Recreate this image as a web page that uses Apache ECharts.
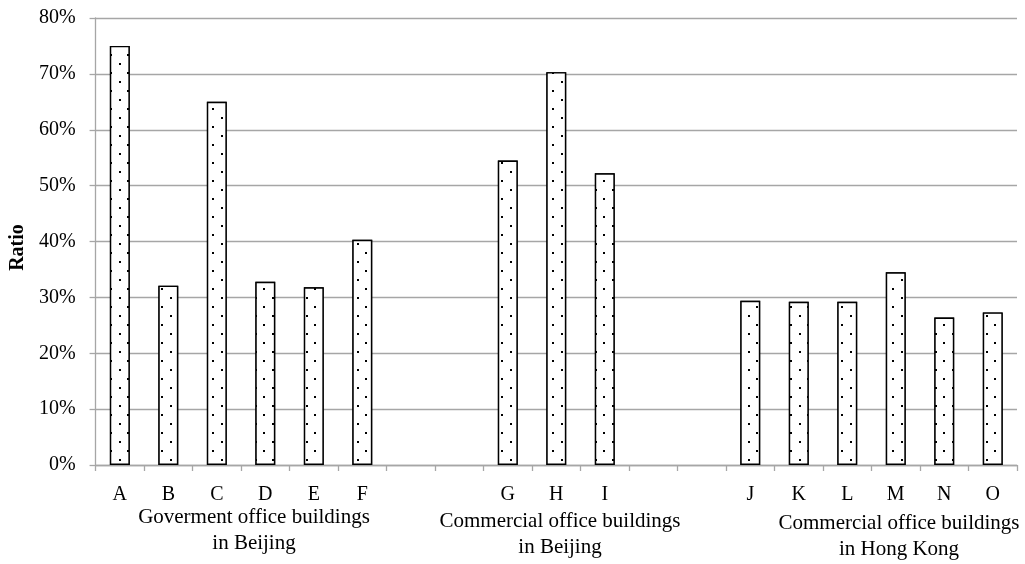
<!DOCTYPE html>
<html>
<head>
<meta charset="utf-8">
<script src="https://cdn.jsdelivr.net/npm/echarts@6/dist/echarts.min.js"></script>
<style>
  html, body { margin: 0; padding: 0; background: #fff; }
  #chart { width: 1025px; height: 564px; }
</style>
</head>
<body>
<div id="chart"></div>
<script>
// categories (empty strings are the gaps between groups)
const categories = ['A', 'B', 'C', 'D', 'E', 'F', '', '', 'G', 'H', 'I', '', '', 'J', 'K', 'L', 'M', 'N', 'O']
// ratio in percent
const ratio = [75.0, 32.1, 65.0, 32.8, 31.8, 40.3, null, null, 54.5, 70.3, 52.2, null, null, 29.4, 29.2, 29.2, 34.5, 26.4, 27.3]
const groupLines = [
  ['Goverment office buildings', 'in Beijing'],
  ['Commercial office buildings', 'in Beijing'],
  ['Commercial office buildings', 'in Hong Kong'],
]
const yTicks = [0, 10, 20, 30, 40, 50, 60, 70, 80]

const font = 'Liberation Serif, Times New Roman, serif'
const gray = '#a6a6a6'

const chart = echarts.init(document.getElementById('chart'))

// where each group caption sits (x center, first line y)
const groupPos = [[254, 517], [560, 521], [899, 523]]
const graphics = []
groupLines.forEach((lines, i) => {
  lines.forEach((t, j) => {
    graphics.push({
      type: 'text',
      x: groupPos[i][0],
      y: groupPos[i][1] + j * 26,
      style: {
        text: t,
        font: '21px ' + font,
        fill: '#000',
        textAlign: 'center',
        textVerticalAlign: 'middle',
      },
    })
  })
})

chart.setOption({
  animation: false,
  textStyle: { fontFamily: font },
  grid: { left: 93.5, right: 8, top: 18, bottom: 99 },
  xAxis: {
    type: 'category',
    data: categories,
    boundaryGap: true,
    axisLine: { lineStyle: { color: gray, width: 1.3 } },
    axisTick: { show: true, interval: 0, length: 6, lineStyle: { color: gray, width: 1.3 } },
    axisLabel: { interval: 0, color: '#000', fontSize: 20, margin: 20, fontFamily: font },
  },
  yAxis: {
    type: 'value',
    min: yTicks[0],
    max: yTicks[yTicks.length - 1],
    interval: 10,
    name: 'Ratio',
    nameLocation: 'middle',
    nameGap: 63,
    nameTextStyle: { fontWeight: 'bold', fontSize: 20, color: '#000', fontFamily: font, padding: [0, 0, 0, -12] },
    axisLine: { show: true, lineStyle: { color: gray, width: 1.3 } },
    axisTick: { show: true, length: 6, lineStyle: { color: gray, width: 1.3 } },
    axisLabel: { formatter: '{value}%', color: '#000', fontSize: 20, margin: 20, fontFamily: font },
    splitLine: { lineStyle: { color: gray, width: 1.3 } },
  },
  series: [{
    type: 'bar',
    data: ratio,
    barWidth: '41%',
    itemStyle: {
      color: '#fff',
      borderColor: '#000',
      borderWidth: 1.4,
      decal: {
        symbol: 'rect',
        symbolSize: 1,
        color: '#000',
        backgroundColor: '#fff',
        dashArrayX: [[1.7, 14.3], [0, 8, 1.7, 6.3]],
        dashArrayY: [1.7, 6.7],
      },
    },
  }],
  graphic: graphics,
})
</script>
</body>
</html>
